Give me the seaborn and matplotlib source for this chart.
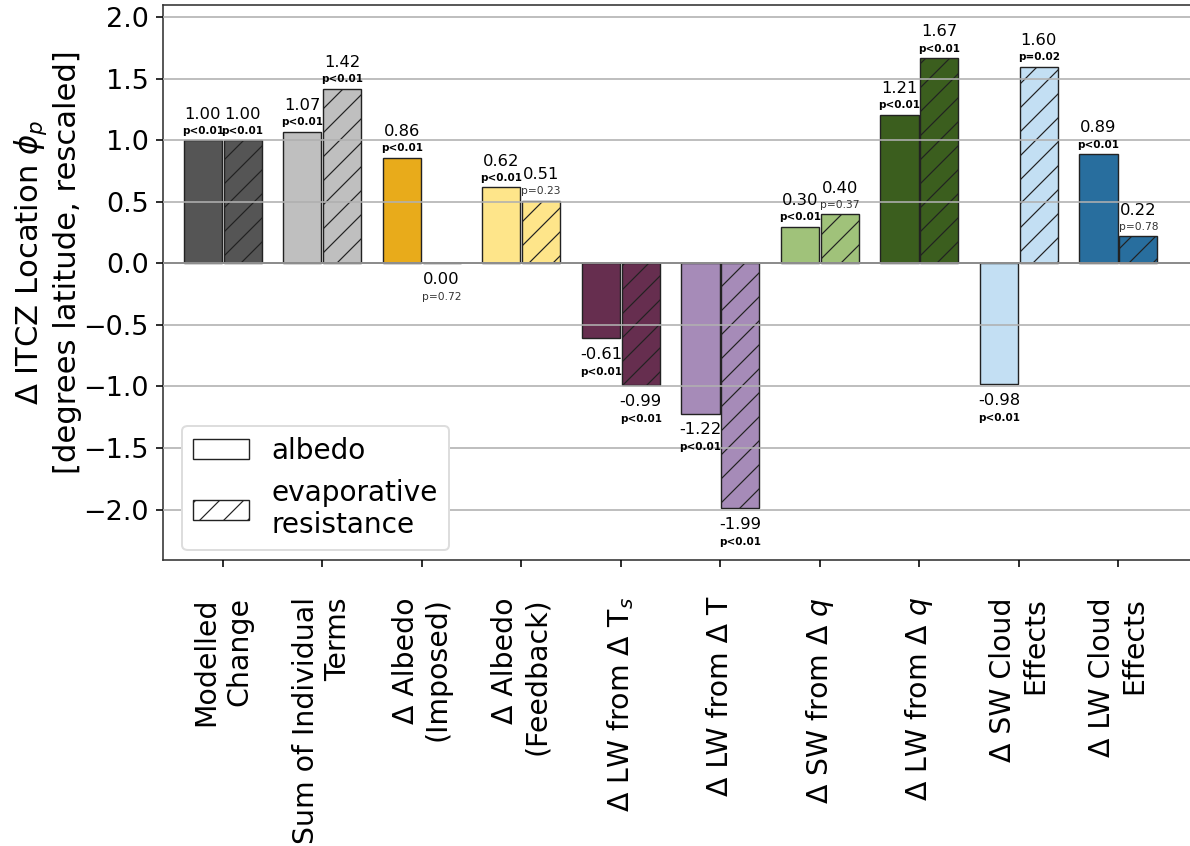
import pandas as pd
import matplotlib.pyplot as plt
import matplotlib.patches as mpatches
import seaborn as sns

TERMS = [
    "Modelled\nChange",
    "Sum of Individual\nTerms",
    "Δ Albedo\n(Imposed)",
    "Δ Albedo\n(Feedback)",
    "Δ LW from Δ T$_s$",
    "Δ LW from Δ T",
    "Δ SW from Δ $q$",
    "Δ LW from Δ $q$",
    "Δ SW Cloud\nEffects",
    "Δ LW Cloud\nEffects",
]

ALBEDO_VALS = [1.00, 1.07, 0.86, 0.62, -0.61, -1.22, 0.30, 1.21, -0.98, 0.89]
EVAP_VALS = [1.00, 1.42, 0.00, 0.51, -0.99, -1.99, 0.40, 1.67, 1.60, 0.22]

ALBEDO_P = ["p<0.01"] * 10
EVAP_P = ["p<0.01", "p<0.01", "p=0.72", "p=0.23", "p<0.01",
          "p<0.01", "p=0.37", "p<0.01", "p=0.02", "p=0.78"]

COLORS = ["#555555", "#bfbfbf", "#e8ab1b", "#fee58a", "#662e4f",
          "#a68bb8", "#a0c27a", "#3b5e1e", "#c3dff3", "#286e9e"]

EXPERIMENTS = ["albedo", "evaporative\nresistance"]

DPI = 144


def build_frame():
    rows = []
    for term, a, e in zip(TERMS, ALBEDO_VALS, EVAP_VALS):
        rows.append({"term": term, "exp": EXPERIMENTS[0], "value": a})
        rows.append({"term": term, "exp": EXPERIMENTS[1], "value": e})
    return pd.DataFrame(rows)


def annotate(ax, x, v, ptxt):
    # significant p values are bold
    sig = ptxt.startswith("p<") or float(ptxt[2:]) < 0.05
    weight = "bold" if sig else "normal"
    pcol = "black" if sig else "#333333"
    psize = 5.2 if sig else 5.3
    if v > 0:
        ax.text(x, v + 0.035, ptxt, ha="center", va="bottom", fontsize=psize,
                fontweight=weight, color=pcol)
        ax.text(x, v + 0.15, f"{v:.2f}", ha="center", va="bottom", fontsize=8.2)
    else:
        ax.text(x, v - 0.07, f"{v:.2f}", ha="center", va="top", fontsize=8.2)
        ax.text(x, v - 0.235, ptxt, ha="center", va="top", fontsize=psize,
                fontweight=weight, color=pcol)


def main():
    sns.set_style("ticks")
    plt.rcParams["font.family"] = ["DejaVu Sans"]
    for key in ["text.color", "axes.labelcolor", "xtick.color", "ytick.color"]:
        plt.rcParams[key] = "black"
    plt.rcParams["hatch.linewidth"] = 0.6
    df = build_frame()

    fig = plt.figure(figsize=(1190 / DPI, 846 / DPI), dpi=DPI)
    ax = fig.add_axes([163 / 1190, 1 - 560 / 846, (1196 - 163) / 1190, 555 / 846])

    sns.barplot(data=df, x="term", y="value", hue="exp", order=TERMS,
                hue_order=EXPERIMENTS, saturation=1, width=0.8, gap=0.04,
                legend=False, edgecolor="#222222", linewidth=0.7, ax=ax)

    for k, cont in enumerate(ax.containers):
        vals = ALBEDO_VALS if k == 0 else EVAP_VALS
        ps = ALBEDO_P if k == 0 else EVAP_P
        for i, bar in enumerate(cont):
            bar.set_facecolor(COLORS[i])
            bar.set_edgecolor("#222222")
            if k == 1:
                bar.set_hatch("//")
            xc = bar.get_x() + bar.get_width() / 2
            annotate(ax, xc, vals[i], ps[i])

    ax.set_axisbelow(False)
    ax.yaxis.grid(True, color="#b0b0b0", linewidth=0.8)
    ax.axhline(0, color="black", linewidth=1.0)

    ax.set_xlim(-0.6, 9.78)
    ax.set_ylim(-2.41, 2.1)
    ax.set_yticks([-2.0, -1.5, -1.0, -0.5, 0.0, 0.5, 1.0, 1.5, 2.0])
    ax.set_yticklabels([f"{t:.1f}".replace("-", "\u2212") for t in ax.get_yticks()])
    ax.tick_params(axis="y", labelsize=13.5, length=3.5, width=0.8, pad=3.5)
    ax.tick_params(axis="x", labelsize=14.2, length=3.5, width=0.8, pad=15)
    for lab in ax.get_xticklabels():
        lab.set_rotation(90)
        lab.set_multialignment("right")
    ax.set_xlabel("")
    ax.set_ylabel("Δ ITCZ Location $\\phi_p$\n[degrees latitude, rescaled]",
                  fontsize=15.3)
    ax.yaxis.set_label_coords(-0.078, 0.537)
    for sp in ["top", "left", "bottom"]:
        ax.spines[sp].set_color("#333333")
        ax.spines[sp].set_linewidth(0.8)
    ax.spines["right"].set_visible(False)

    handles = [
        mpatches.Patch(facecolor="white", edgecolor="#222222", linewidth=0.7,
                       label="albedo"),
        mpatches.Patch(facecolor="white", edgecolor="#222222", linewidth=0.7,
                       hatch="//", label="evaporative\nresistance"),
    ]
    ax.legend(handles=handles, loc="lower left", fontsize=14, handlelength=2.0,
              bbox_to_anchor=(0.005, -0.008), framealpha=1, edgecolor="#dddddd")

    fig.savefig("out.png", dpi=DPI)


if __name__ == "__main__":
    main()
